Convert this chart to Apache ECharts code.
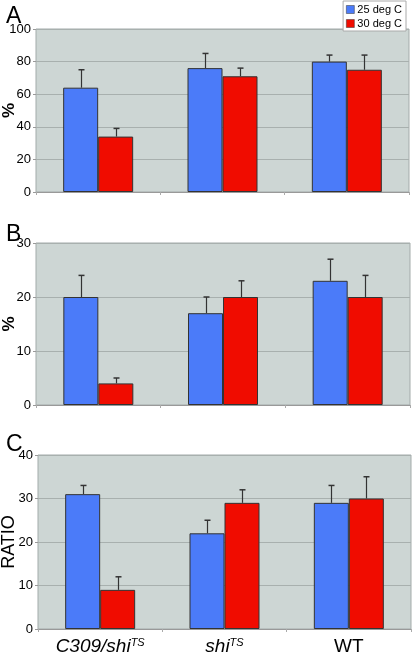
<!DOCTYPE html>
<html><head><meta charset="utf-8">
<script src="https://cdn.jsdelivr.net/npm/echarts@6/dist/echarts.min.js"></script>
<style>html,body{margin:0;padding:0;background:#fff}#c{width:412px;height:652px}</style>
</head><body><div id="c"></div>
<script>
const categories = ['C309/shi', 'shi', 'WT'];
const seriesNames = ['25 deg C', '30 deg C'];
const aTicks = [0, 100, 20];
const bTicks = [0, 30, 10];
const cTicks = [0, 40, 10];
// Panel A (%)
const a25 = [64, 76, 80];
const a30 = [34, 71, 75];
const a25err = [11, 9, 4];
const a30err = [5, 5, 9];
// Panel B (%)
const b25 = [20, 17, 23];
const b30 = [4, 20, 20];
const b25err = [4, 3, 4];
const b30err = [1, 3, 4];
// Panel C (RATIO)
const c25 = [31, 22, 29];
const c30 = [9, 29, 30];
const c25err = [2, 3, 4];
const c30err = [3, 3, 5];

const BLUE = '#4b7bf9', RED = '#f00c00', BG = '#cdd6d4';
const BW = 35;

const grids = [
  {left: 36, top: 29, width: 373, height: 163},
  {left: 36, top: 243, width: 374, height: 162},
  {left: 38, top: 455, width: 373, height: 174}
].map(g => Object.assign(g, {show: true, containLabel: false, outerBoundsMode: 'none', backgroundColor: BG, borderColor: '#a3abaa', borderWidth: 1}));

function xAxis(i, labels) {
  return {
    type: 'category', gridIndex: i, data: categories,
    axisLine: {lineStyle: {color: '#999'}},
    axisTick: {show: true, length: 3, lineStyle: {color: '#aaa'}},
    axisLabel: labels ? {
      show: true, interval: 0, hideOverlap: false, margin: 8, color: '#000',
      formatter: function (v) { return v === 'WT' ? '{n|WT}' : '{i|' + v + '}{s|TS}'; },
      rich: {
        i: {fontFamily: 'Liberation Sans', fontStyle: 'italic', fontSize: 19, color: '#000'},
        n: {fontFamily: 'Liberation Sans', fontSize: 19, color: '#000'},
        s: {fontFamily: 'Liberation Sans', fontStyle: 'italic', fontSize: 11, color: '#000', verticalAlign: 'top', padding: [0, 0, 8, 0]}
      }
    } : {show: false}
  };
}
function yAxis(i, t, name, bold) {
  return {
    type: 'value', gridIndex: i, min: t[0], max: t[1], interval: t[2],
    name: name, nameLocation: 'middle', nameGap: i === 2 ? 20 : 18, nameRotate: 90,
    nameMoveOverlap: false,
    nameTextStyle: {fontFamily: 'Liberation Sans', fontSize: i === 2 ? 18 : 17, fontWeight: bold ? 'bold' : 'normal', color: '#000'},
    axisLine: {show: false},
    axisTick: {show: true, length: 3, lineStyle: {color: '#999'}},
    axisLabel: {fontFamily: 'Liberation Sans', fontSize: 13, color: '#000', margin: 5},
    splitLine: {lineStyle: {color: '#a8b0ae', width: 1}}
  };
}
function bar(i, name, data, color) {
  return {
    type: 'bar', name: name, xAxisIndex: i, yAxisIndex: i, data: data,
    barWidth: BW, barGap: '0%',
    itemStyle: {color: color, borderColor: '#333', borderWidth: 1},
    silent: true, animation: false
  };
}
function err(i, vals, errs, side) {
  return {
    type: 'custom', xAxisIndex: i, yAxisIndex: i, z: 1,
    data: vals.map((v, k) => [k, v, v + errs[k]]),
    renderItem: function (params, api) {
      const p0 = api.coord([api.value(0), api.value(1)]);
      const p1 = api.coord([api.value(0), api.value(2)]);
      const x = Math.round(p0[0] + side * BW / 2) + 0.5;
      return {type: 'group', children: [
        {type: 'line', shape: {x1: x, y1: p0[1], x2: x, y2: p1[1]}, style: {stroke: '#333', lineWidth: 1.2}},
        {type: 'line', shape: {x1: x - 3, y1: p1[1], x2: x + 3, y2: p1[1]}, style: {stroke: '#333', lineWidth: 1.5}}
      ]};
    },
    silent: true, animation: false
  };
}

const chart = echarts.init(document.getElementById('c'));
chart.setOption({
  animation: false,
  grid: grids,
  legend: {
    data: seriesNames, orient: 'vertical', right: 6, top: 1, icon: 'rect',
    itemWidth: 8, itemHeight: 8, itemGap: 3, padding: [3, 4, 2, 3],
    borderColor: '#aaa', borderWidth: 1, backgroundColor: '#fff',
    textStyle: {fontFamily: 'Liberation Sans', fontSize: 11, color: '#000', padding: [0, 0, 0, -2]},
    itemStyle: {borderColor: '#333', borderWidth: 0.5}
  },
  title: [
    {text: 'A', left: 1, top: 0, textStyle: {fontFamily: 'Liberation Sans', fontSize: 23, fontWeight: 'normal', color: '#000'}},
    {text: 'B', left: 1, top: 218, textStyle: {fontFamily: 'Liberation Sans', fontSize: 23, fontWeight: 'normal', color: '#000'}},
    {text: 'C', left: 1, top: 428, textStyle: {fontFamily: 'Liberation Sans', fontSize: 23, fontWeight: 'normal', color: '#000'}}
  ],
  xAxis: [xAxis(0, false), xAxis(1, false), xAxis(2, true)],
  yAxis: [yAxis(0, aTicks, '%', true), yAxis(1, bTicks, '%', true), yAxis(2, cTicks, 'RATIO', false)],
  series: [
    bar(0, seriesNames[0], a25, BLUE), bar(0, seriesNames[1], a30, RED),
    err(0, a25, a25err, -1), err(0, a30, a30err, 1),
    bar(1, seriesNames[0], b25, BLUE), bar(1, seriesNames[1], b30, RED),
    err(1, b25, b25err, -1), err(1, b30, b30err, 1),
    bar(2, seriesNames[0], c25, BLUE), bar(2, seriesNames[1], c30, RED),
    err(2, c25, c25err, -1), err(2, c30, c30err, 1)
  ]
});
</script></body></html>
